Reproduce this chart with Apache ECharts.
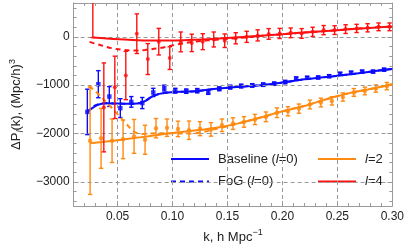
<!DOCTYPE html>
<html><head><meta charset="utf-8">
<script src="https://cdn.jsdelivr.net/npm/echarts@6/dist/echarts.min.js"></script>
<style>html,body{margin:0;padding:0;background:#fff}#c{width:407px;height:249px}</style>
</head><body><div id="c"></div>
<script>
// ---- tick values ----
var xMajor = [0.05, 0.10, 0.15, 0.20, 0.25, 0.30];
var xMinor = [0.02,0.03,0.04,0.06,0.07,0.08,0.09,0.11,0.12,0.13,0.14,0.16,0.17,0.18,0.19,0.21,0.22,0.23,0.24,0.26,0.27,0.28,0.29];
var yMajor = [-3000, -2000, -1000, 0];
var yMinor = [-3400,-3200,-2800,-2600,-2400,-2200,-1800,-1600,-1400,-1200,-800,-600,-400,-200,200,400,600];
var gridX = [0.05, 0.10, 0.15, 0.20, 0.25];
var gridY = [-3000, -2000, -1000, 0];

// ---- measurements (l=0, blue) ----
var kBlue = [0.0225,0.0325,0.0425,0.0525,0.0625,0.0725,0.0825,0.0925,0.1025,0.1125,0.1225,0.1325,0.1425,0.1525,0.1625,0.1725,0.1825,0.1925,0.2025,0.2125,0.2225,0.2325,0.2425,0.2525,0.2625,0.2725,0.2825,0.2925];
var blueVal = [-1553,-980,-1235,-1475,-1346,-1370,-1150,-1060,-1115,-1124,-1115,-1145,-1075,-1040,-1018,-1005,-990,-970,-935,-862,-848,-841,-814,-765,-742,-720,-720,-680];
var blueErr = [470,280,205,195,110,115,85,60,50,45,45,45,40,40,38,36,35,34,33,32,31,30,30,30,30,30,30,30];

// ---- measurements (l=2, orange) ----
var kOrange = [0.025,0.035,0.045,0.055,0.065,0.075,0.085,0.095,0.105,0.115,0.125,0.135,0.145,0.155,0.165,0.175,0.185,0.195,0.205,0.215,0.225,0.235,0.245,0.255,0.265,0.275,0.285,0.295];
var orangeVal = [-2150,-2100,-2150,-2120,-2060,-2130,-1890,-1880,-1905,-1932,-1900,-1915,-1830,-1795,-1760,-1710,-1655,-1570,-1540,-1485,-1400,-1360,-1325,-1245,-1150,-1120,-1070,-1020];
var orangeErr = [1110,620,450,400,350,300,200,180,160,190,145,140,130,120,110,105,100,100,95,95,90,90,85,85,80,80,75,75];

// ---- measurements (l=4, red) ----
var kRed = [0.0275,0.0375,0.0475,0.0575,0.0675,0.0775,0.0875,0.0975,0.1075,0.1175,0.1275,0.1375,0.1475,0.1575,0.1675,0.1775,0.1875,0.1975,0.2075,0.2175,0.2275,0.2375,0.2475,0.2575,0.2675,0.2775,0.2875,0.2975];
var redVal = [1000,-1460,-1045,-800,65,-460,-100,-440,-105,-125,-100,-55,-80,-30,0,30,60,70,83,70,104,139,139,160,174,187,207,207];
var redErr = [1015,920,645,500,410,320,275,235,205,180,165,155,140,115,115,115,110,105,100,100,95,95,90,90,85,85,80,80];

// ---- model curves ----
var kBaseL0 = [0.0225,0.028,0.033,0.04,0.05,0.06,0.068,0.075,0.081,0.088,0.10,0.11,0.12,0.13,0.14,0.16,0.18,0.20,0.22,0.24,0.26,0.28,0.30];
var baseL0 = [-1550,-1460,-1400,-1375,-1380,-1385,-1380,-1330,-1240,-1180,-1145,-1135,-1125,-1100,-1075,-1035,-1000,-945,-880,-830,-780,-720,-665];
var kFogL0 = [0.0225,0.028,0.033,0.04,0.05,0.06,0.068,0.075,0.081,0.088,0.10,0.11,0.12,0.13,0.14,0.16,0.18,0.20,0.22,0.24,0.26,0.28,0.30];
var fogL0 = [-1565,-1440,-1390,-1375,-1380,-1385,-1380,-1330,-1240,-1180,-1145,-1135,-1125,-1100,-1075,-1035,-1000,-945,-880,-830,-780,-720,-665];
var kBaseL2 = [0.025,0.04,0.06,0.08,0.10,0.12,0.14,0.16,0.18,0.20,0.22,0.24,0.26,0.28,0.30];
var baseL2 = [-2200,-2165,-2110,-2050,-1990,-1940,-1880,-1790,-1670,-1540,-1430,-1290,-1170,-1080,-980];
var kFogL2 = [0.024,0.03,0.04,0.05,0.058,0.065,0.072,0.08,0.09,0.10,0.11,0.12,0.13,0.14,0.15,0.16,0.18,0.20,0.22,0.24,0.26,0.28,0.30];
var fogL2 = [-1020,-1130,-1360,-1600,-1800,-1960,-2010,-2000,-1995,-1995,-2000,-1995,-1960,-1900,-1850,-1790,-1670,-1540,-1430,-1290,-1170,-1080,-980];
var kBaseL4 = [0.0275,0.04,0.06,0.08,0.10,0.12,0.14,0.16,0.18,0.20,0.22,0.24,0.26,0.28,0.30];
var baseL4 = [-15,-35,-60,-75,-75,-60,-40,-10,20,55,90,120,155,185,215];
var kFogL4 = [0.0245,0.035,0.045,0.055,0.065,0.075,0.09,0.105,0.12,0.14,0.16,0.18,0.20,0.22,0.24,0.26,0.28,0.30];
var fogL4 = [-105,-175,-235,-270,-285,-270,-225,-155,-100,-60,-25,15,55,90,120,155,185,215];

var BLUE = '#0a0aff', ORANGE = '#ff8a10', RED = '#ff1010';
var FONT = "'Liberation Sans', Arial, Helvetica, sans-serif";
var FRAME = '#9a9a9a';
var TXT = '#222';

function pairs(k, v) { return k.map(function (x, i) { return [x, v[i]]; }); }
function triples(k, v, e) { return k.map(function (x, i) { return [x, v[i], e[i]]; }); }

function errBar(color, cap, lw) {
  return function (params, api) {
    var k = api.value(0), v = api.value(1), e = api.value(2);
    var t = api.coord([k, v + e]), b = api.coord([k, v - e]);
    var st = { stroke: color, lineWidth: lw };
    return { type: 'group', children: [
      { type: 'line', shape: { x1: t[0], y1: t[1], x2: b[0], y2: b[1] }, style: st },
      { type: 'line', shape: { x1: t[0] - cap, y1: t[1], x2: t[0] + cap, y2: t[1] }, style: st },
      { type: 'line', shape: { x1: b[0] - cap, y1: b[1], x2: b[0] + cap, y2: b[1] }, style: st }
    ] };
  };
}

function xAx(pos, major, showLabel, name) {
  var a = {
    type: 'value', position: pos, min: 0.01, max: 0.30,
    axisLine: { show: major, onZero: false, lineStyle: { color: FRAME, width: 1 } },
    axisTick: { show: true, inside: true, length: major ? 5 : 3, customValues: major ? xMajor : xMinor, lineStyle: { color: FRAME, width: 1 } },
    axisLabel: { show: showLabel, customValues: xMajor, margin: 5, color: TXT, fontSize: 12, fontFamily: FONT,
      formatter: function (v) { return v.toFixed(2); } },
    splitLine: { show: false }
  };
  if (name) {
    a.name = '{a|k, h Mpc}{s|\u22121}';
    a.nameLocation = 'middle';
    a.nameGap = 22;
    a.nameTextStyle = { color: TXT, fontFamily: FONT, rich: {
      a: { fontSize: 13, fontFamily: FONT, color: TXT, lineHeight: 16, verticalAlign: 'bottom' },
      s: { fontSize: 9, fontFamily: FONT, color: TXT, lineHeight: 16, verticalAlign: 'top' } } };
  }
  return a;
}
function yAx(pos, major, showLabel, name) {
  var a = {
    type: 'value', position: pos, min: -3500, max: 700,
    axisLine: { show: major, onZero: false, lineStyle: { color: FRAME, width: 1 } },
    axisTick: { show: true, inside: true, length: major ? 5 : 3, customValues: major ? yMajor : yMinor, lineStyle: { color: FRAME, width: 1 } },
    axisLabel: { show: showLabel, customValues: yMajor, margin: 4, color: TXT, fontSize: 12, fontFamily: FONT,
      formatter: function (v) { return v < 0 ? '\u2212' + Math.abs(v) : String(v); } },
    splitLine: { show: false }
  };
  if (name) {
    a.name = '{a|\u0394P}{l|l}{a|(k), (Mpc/h)}{s|3}';
    a.nameLocation = 'middle';
    a.nameGap = 47;
    a.nameRotate = 90;
    a.nameTextStyle = { color: TXT, fontFamily: FONT, rich: {
      a: { fontSize: 13, fontFamily: FONT, color: TXT, lineHeight: 17, verticalAlign: 'middle' },
      l: { fontSize: 9, fontFamily: FONT, fontStyle: 'italic', color: TXT, lineHeight: 17, verticalAlign: 'bottom' },
      s: { fontSize: 9, fontFamily: FONT, color: TXT, lineHeight: 17, verticalAlign: 'top' } } };
  }
  return a;
}

function model(name, k, v, color, dashed, z) {
  return { name: name, type: 'line', data: pairs(k, v), symbol: 'none', smooth: 0.35, clip: true, silent: true,
    color: color, z: z, lineStyle: { color: color, width: 2, type: dashed ? [5, 4] : 'solid' } };
}
function bars(name, k, v, e, color, cap, z) {
  return { name: name, type: 'custom', data: triples(k, v, e), renderItem: errBar(color, cap, 1.4),
    encode: { x: 0, y: 1 }, clip: true, silent: true, z: z };
}
function marks(name, k, v, color, sym, size, z) {
  return { name: name, type: 'scatter', data: pairs(k, v), symbol: sym, symbolSize: size, clip: true, silent: true,
    itemStyle: { color: color }, z: z };
}

var legendText = {
  'Baseline (l=0)': '{n|Baseline (}{i|l}{n|=0)}',
  'FoG (l=0)': '{n|FoG (}{i|l}{n|=0)}',
  'l=2': '{i|l}{n|=2}',
  'l=4': '{i|l}{n|=4}'
};
var legRich = {
  n: { fontSize: 13, fontFamily: FONT, color: TXT, lineHeight: 14 },
  i: { fontSize: 13, fontFamily: FONT, fontStyle: 'italic', color: TXT, lineHeight: 14 }
};
function leg(left, names) {
  return { orient: 'vertical', left: left, top: 152, itemWidth: 38, itemHeight: 14, itemGap: 8.4,
    data: names, selectedMode: false, padding: 0,
    formatter: function (n) { return legendText[n]; },
    textStyle: { padding: [0, 0, 0, 4], fontSize: 13, lineHeight: 14, fontFamily: FONT, color: TXT, rich: legRich },
    itemStyle: { opacity: 0 },
    lineStyle: { width: 2 } };
}

var chart = echarts.init(document.getElementById('c'), null, { renderer: 'canvas' });
chart.setOption({
  animation: false,
  backgroundColor: '#fff',
  grid: { left: 65, right: 14, top: 3, bottom: 43, containLabel: false },
  xAxis: [xAx('bottom', true, true, true), xAx('bottom', false, false, false), xAx('top', true, false, false), xAx('top', false, false, false)],
  yAxis: [yAx('left', true, true, true), yAx('left', false, false, false), yAx('right', true, false, false), yAx('right', false, false, false)],
  legend: [leg(170, ['Baseline (l=0)', 'FoG (l=0)']), leg(317, ['l=2', 'l=4'])],
  series: [
    { name: 'grid', type: 'line', data: [], silent: true, z: 0,
      markLine: { silent: true, symbol: ['none', 'none'], animation: false, label: { show: false },
        emphasis: { disabled: true },
        lineStyle: { type: [4, 3], color: '#999', width: 1 },
        data: gridX.map(function (v) { return { xAxis: v }; }).concat(gridY.map(function (v) { return { yAxis: v }; })) } },
    bars('l0 err', kBlue, blueVal, blueErr, BLUE, 2.2, 2),
    marks('l0 pts', kBlue, blueVal, BLUE, 'rect', 4.5, 3),
    model('FoG (l=0)', kFogL0, fogL0, BLUE, true, 3),
    model('Baseline (l=0)', kBaseL0, baseL0, BLUE, false, 3),
    bars('l2 err', kOrange, orangeVal, orangeErr, ORANGE, 2.2, 4),
    marks('l2 pts', kOrange, orangeVal, ORANGE, 'circle', 4.5, 5),
    model('l=2 FoG', kFogL2, fogL2, ORANGE, true, 5),
    model('l=2', kBaseL2, baseL2, ORANGE, false, 5),
    bars('l4 err', kRed, redVal, redErr, RED, 2.2, 6),
    marks('l4 pts', kRed, redVal, RED, 'circle', 4, 7),
    model('l=4 FoG', kFogL4, fogL4, RED, true, 7),
    model('l=4', kBaseL4, baseL4, RED, false, 7)
  ]
});
</script></body></html>
